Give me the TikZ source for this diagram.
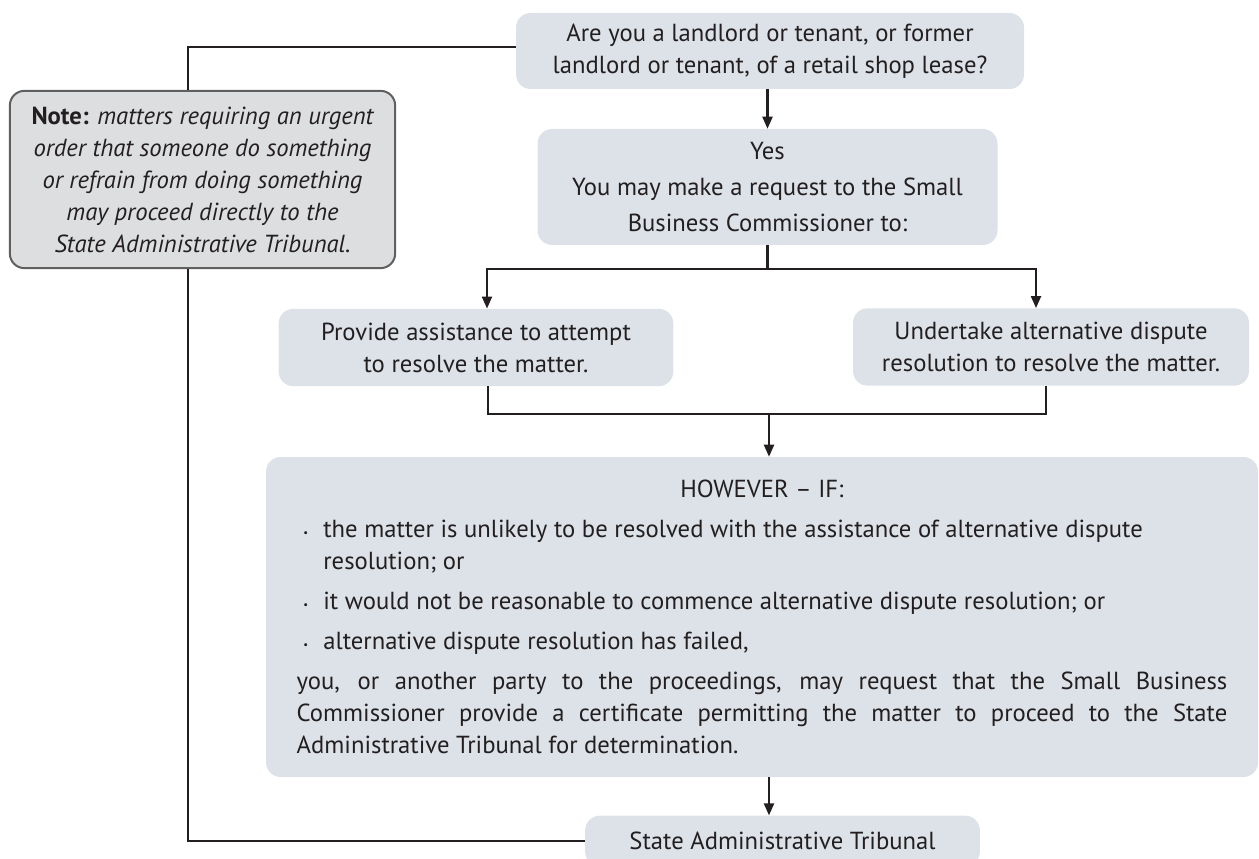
\documentclass[tikz,border=0pt]{standalone}
\usepackage{fontspec}
\setmainfont{PT Sans}
\usetikzlibrary{arrows.meta}

\definecolor{boxblue}{RGB}{220,226,232}
\definecolor{notegray}{RGB}{221,222,224}
\definecolor{noteedge}{RGB}{95,95,95}
\definecolor{inkgray}{RGB}{35,31,32}

\newcommand{\bul}{\makebox[20pt][l]{\hspace{5pt}\raisebox{1pt}{\footnotesize\textbullet}}}
\newcommand{\bulitem}[1]{{\rightskip=0pt plus 1fil \hangindent=20pt \hangafter=1 \noindent\bul #1\par}\vspace{6pt}}

\begin{document}
\begin{tikzpicture}[x=0.75pt, y=-0.75pt, >={Triangle[length=9pt,width=7.5pt]},
	box/.style={fill=boxblue, rounded corners=11pt, text=inkgray, align=center, inner sep=0pt, font=\fontsize{18.5}{24}\selectfont},
	notebox/.style={box, fill=notegray, draw=noteedge, line width=1.5pt, font=\fontsize{18.5}{24}\selectfont\itshape},
	wire/.style={line width=1.6pt, draw=inkgray}]
	
	\useasboundingbox (0,0) rectangle (1259,859);
	
	% Boxes
	\node[box, minimum width=381pt, minimum height=57pt] (ask) at (770,51) {Are you a landlord or tenant, or former\\ landlord or tenant, of a retail shop lease?};
	\node[box, minimum width=345pt, minimum height=87pt] (yes) at (767.5,187) {Yes\\[3pt] You may make a request to the Small\\[3pt] Business Commissioner to:};
	\node[box, minimum width=296pt, minimum height=58pt] (assist) at (476,347.5) {Provide assistance to attempt\\ to resolve the matter.};
	\node[box, minimum width=297pt, minimum height=58pt] (adr) at (1051,347) {Undertake alternative dispute\\ resolution to resolve the matter.};
	\node[box, minimum width=744pt, minimum height=240pt] (however) at (762,617) {%
		\begin{minipage}{698pt}
		\parindent=0pt \parskip=0pt
		{\centering HOWEVER -- IF:\par}\vspace{6pt}
		\bulitem{the matter is unlikely to be resolved with the assistance of alternative dispute resolution; or}
		\bulitem{it would not be reasonable to commence alternative dispute resolution; or}
		\bulitem{alternative dispute resolution has failed,}
		you, or another party to the proceedings, may request that the Small Business\linebreak Commissioner provide a certificate permitting the matter to proceed to the State\linebreak Administrative Tribunal for determination.
		\end{minipage}};
	\node[box, minimum width=296pt, minimum height=38pt] (sat) at (782.5,841) {State Administrative Tribunal};
	\node[notebox, minimum width=289pt, minimum height=133pt] (note) at (202.5,179.5) {{\upshape\bfseries Note:} matters requiring an urgent\\ order that someone do something\\ or refrain from doing something\\ may proceed directly to the\\ State Administrative Tribunal.};
	
	% Rail on the left
	\coordinate (rail) at (188,47);
	\draw[wire] (ask.west |- rail) -- (rail) -- (rail |- note.north);
	\draw[wire] (rail |- note.south) |- (sat.west);
	
	% Split below the Yes box
	\coordinate (brL) at (487,269);
	\coordinate (brR) at (1036,269);
	\draw[wire, ->] (yes.north |- ask.south) -- (yes.north);
	\draw[wire, ->] (yes.south) |- (brL) -- (brL |- assist.north);
	\draw[wire, ->] (yes.south |- brL) -- (brR) -- (brR |- adr.north);
	
	% Merge into the HOWEVER box
	\coordinate (mgL) at (488,414);
	\coordinate (mgR) at (1046,414);
	\coordinate (mg) at (769,414);
	\draw[wire] (mgL |- assist.south) -- (mgL) -- (mgR) -- (mgR |- adr.south);
	\draw[wire, ->] (mg) -- (mg |- however.north);
	\draw[wire, ->] (mg |- however.south) -- (mg |- sat.north);
	
\end{tikzpicture}
\end{document}
